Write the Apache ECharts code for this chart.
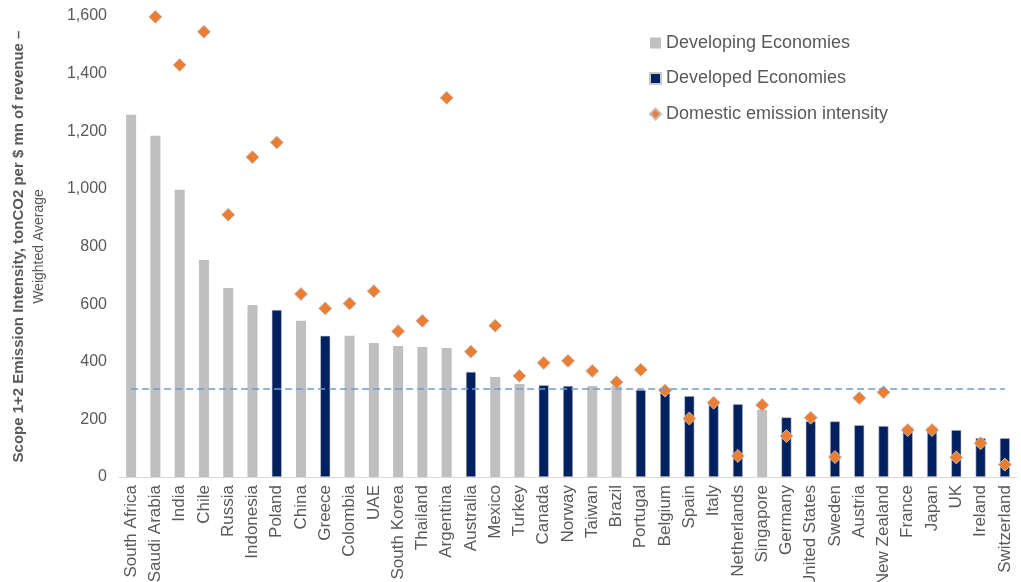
<!DOCTYPE html>
<html>
<head>
<meta charset="utf-8">
<script src="https://cdn.jsdelivr.net/npm/echarts@6/dist/echarts.min.js"></script>
<style>
  html, body { margin: 0; padding: 0; background: #fff; }
  #main { width: 1021px; height: 582px; }
</style>
</head>
<body>
<div id="main"></div>
<script>
// countries, sorted by portfolio intensity
const countries = ['South Africa', 'Saudi Arabia', 'India', 'Chile', 'Russia', 'Indonesia', 'Poland', 'China',
  'Greece', 'Colombia', 'UAE', 'South Korea', 'Thailand', 'Argentina', 'Australia', 'Mexico', 'Turkey',
  'Canada', 'Norway', 'Taiwan', 'Brazil', 'Portugal', 'Belgium', 'Spain', 'Italy', 'Netherlands',
  'Singapore', 'Germany', 'United States', 'Sweden', 'Austria', 'New Zealand', 'France', 'Japan', 'UK',
  'Ireland', 'Switzerland'];
// E = developing, D = developed
const groups = ['E', 'E', 'E', 'E', 'E', 'E', 'D', 'E', 'D', 'E', 'E', 'E', 'E', 'E', 'D', 'E', 'E',
  'D', 'D', 'E', 'E', 'D', 'D', 'D', 'D', 'D', 'E', 'D', 'D', 'D', 'D', 'D', 'D', 'D', 'D', 'D', 'D'];
const intensity = [1257, 1184, 997, 753, 656, 597, 580, 542, 490, 490, 465, 455, 451, 448, 365, 347, 323,
  319, 316, 316, 316, 302, 293, 281, 264, 253, 233, 207, 194, 193, 180, 177, 174, 173, 163, 135, 135];
const domestic = [null, 1597, 1430, 1545, 910, 1110, 1161, 635, 585, 602, 645, 506, 542, 1316, 435, 525, 351,
  396, 403, 368, 329, 372, 300, 203, 258, 73, 250, 142, 206, 69, 274, 294, 163, 163, 68, 117, 43];
const average = 308;
const yTicks = [0, 1600, 200]; // min, max, interval

const chart = echarts.init(document.getElementById('main'));

const textColor = '#595959';
const font = 'Liberation Sans, Arial, sans-serif';

chart.setOption({
  animation: false,
  textStyle: { fontFamily: font },
  grid: { left: 119, right: 4, top: 16, bottom: 105, outerBoundsMode: 'none' },
  legend: {
    orient: 'vertical',
    left: 644,
    top: 29,
    itemGap: 17.5,
    itemWidth: 11,
    itemHeight: 11,
    textStyle: { fontSize: 18, color: textColor, fontFamily: font },
    data: [
      { name: 'Developing Economies', icon: 'rect' },
      { name: 'Developed Economies', icon: 'rect' },
      { name: 'Domestic emission intensity', icon: 'diamond' }
    ]
  },
  xAxis: {
    type: 'category',
    data: countries,
    axisLine: { lineStyle: { color: '#d9d9d9' } },
    axisTick: { show: false },
    axisLabel: {
      interval: 0,
      rotate: 90,
      color: textColor,
      fontSize: 17,
      margin: 8,
      fontFamily: font
    }
  },
  yAxis: {
    type: 'value',
    min: yTicks[0],
    max: yTicks[1],
    interval: yTicks[2],
    splitLine: { show: false },
    axisLine: { show: false },
    axisTick: { show: false },
    axisLabel: {
      color: textColor,
      fontSize: 16,
      margin: 12,
      fontFamily: font,
      formatter: v => v.toLocaleString('en-US')
    },
    name: '{b|Scope 1+2 Emission Intensity, tonCO2 per $ mn of revenue –}\n{n|Weighted Average}',
    nameLocation: 'middle',
    nameRotate: 90,
    nameGap: 70,
    nameTextStyle: {
      rich: {
        b: { fontSize: 15, fontWeight: 'bold', color: textColor, fontFamily: font, lineHeight: 20 },
        n: { fontSize: 14, color: textColor, fontFamily: font, lineHeight: 20 }
      }
    }
  },
  series: [
    {
      name: 'Developing Economies',
      type: 'bar',
      stack: 'c',
      barWidth: 10,
      itemStyle: { color: '#bfbfbf' },
      data: intensity.map((v, i) => groups[i] === 'E' ? v : '-'),
      markLine: {
        silent: true,
        symbol: 'none',
        label: { show: false },
        lineStyle: { color: '#6f9bd1', type: [7, 4], width: 1.5 },
        data: [[
          { coord: [countries[0], average] },
          { coord: [countries[countries.length - 1], average] }
        ]]
      }
    },
    {
      name: 'Developed Economies',
      type: 'bar',
      stack: 'c',
      barWidth: 10,
      itemStyle: { color: '#002060', borderColor: '#c8c8c8', borderWidth: 0.6 },
      data: intensity.map((v, i) => groups[i] === 'D' ? v : '-')
    },
    {
      name: 'Domestic emission intensity',
      type: 'scatter',
      symbol: 'diamond',
      symbolSize: 13,
      itemStyle: { color: '#ed7d31', borderColor: '#bfbfbf', borderWidth: 1, opacity: 1 },
      data: domestic.map(v => v === null ? '-' : v)
    }
  ]
});
</script>
</body>
</html>
